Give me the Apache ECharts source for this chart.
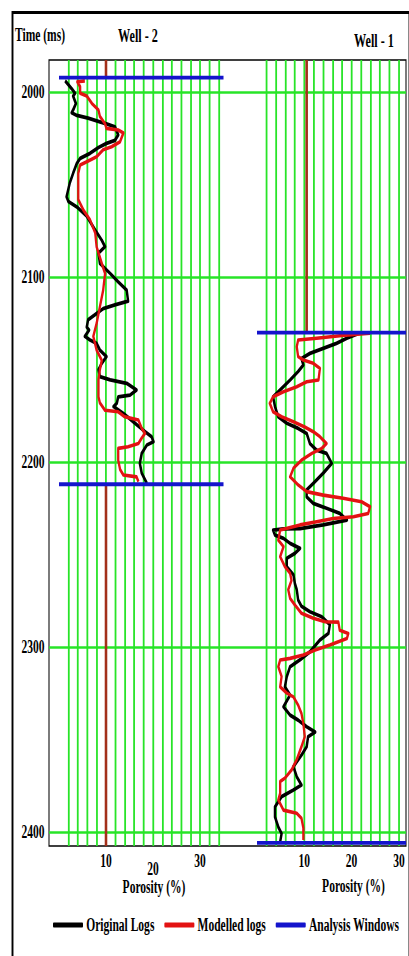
<!DOCTYPE html>
<html>
<head>
<meta charset="utf-8">
<title>Porosity logs – Well 2 and Well 1</title>
<script src="https://cdn.jsdelivr.net/npm/echarts@6/dist/echarts.min.js"></script>
<style>
  html, body { margin: 0; padding: 0; background: #fff; overflow: hidden; width: 409px; height: 956px; }
  #chart { height: 956px; transform-origin: 0 0; }
</style>
</head>
<body>
<div id="chart"></div>
<script>
// The figure is drawn in a wider space and condensed horizontally,
// giving the narrow bold serif lettering of the log display.
const SQ = 0.64;
const W = 409 / SQ;
const H = 956;
const px = x => x / SQ;

// ---- Axes ----
const timeRange = [1982.5, 2407.7];          // two-way time, ms (inverted)
const timeTicks = [2000, 2100, 2200, 2300, 2400];
const porosityTicks = [10, 20, 30];
const well2Range = [0, 35];
const well1Range = [0, 31.5];

// ---- Analysis windows (ms) and reference porosity lines (%) ----
const well2Window = [1992, 2212];
const well1Window = [2130, 2406];
const well2Cutoff = 10;
const well1Cutoff = 10.5;

// ---- Well - 2 : original porosity log ----
const well2OrigTime = [1993.7, 1998, 2000.5, 2002, 2006, 2009.6, 2011, 2012.5, 2014, 2016, 2017, 2018.6, 2023, 2026,
  2027.6, 2029.8, 2033, 2035.7, 2038.4, 2043.8, 2049, 2056.5, 2059, 2062, 2067, 2074.5, 2080, 2083.5, 2087,
  2092.5, 2098, 2102.5, 2107, 2113, 2115, 2117, 2119.6, 2123, 2127, 2128.6, 2132, 2134, 2135.8, 2139.4, 2143,
  2146.6, 2150, 2153.8, 2155.6, 2157.4, 2161, 2163.8, 2164.7, 2168.2, 2170, 2173.7, 2178.2, 2182.7, 2186.3,
  2189, 2190.8, 2195.3, 2200.7, 2206, 2211.5];
const well2OrigPor = [1.3, 2.7, 3.4, 3.0, 3.6, 3.0, 2.7, 3.8, 6.2, 8.7, 10.1, 11.9, 12.6, 11.9,
  10.1, 8.4, 6.6, 4.5, 3.8, 3.0, 2.3, 1.6, 2.0, 3.8, 5.9, 7.7, 9.1, 9.8, 8.4,
  8.7, 10.9, 12.6, 14.4, 14.7, 11.9, 9.4, 8.0, 6.2, 5.9, 6.4, 5.5, 6.6, 8.0, 8.7, 10.1,
  9.1, 8.4, 8.7, 10.9, 14.4, 16.5, 15.1, 12.6, 12.3, 11.6, 13.7, 15.8, 17.9, 19.7,
  20.1, 18.7, 17.6, 17.2, 17.6, 18.7];

// ---- Well - 2 : modelled porosity log ----
const well2ModTime = [1993.8, 1994.3, 1997, 2000.5, 2002, 2006, 2009.6, 2013, 2017, 2019.5, 2020.4, 2022, 2026.7,
  2029.4, 2031, 2034.8, 2037.5, 2039.3, 2043.8, 2058, 2063.7, 2069, 2076, 2083.5, 2092.5, 2098, 2107, 2116,
  2125, 2132, 2139.4, 2145, 2150, 2155.6, 2164.7, 2168, 2172, 2172.8, 2175.5, 2177.3, 2181.8, 2184.5, 2187,
  2190, 2191.7, 2192.6, 2199, 2204, 2207, 2208, 2210.6];
const well2ModPor = [5.5, 3.9, 4.5, 4.5, 5.9, 7.0, 8.4, 8.7, 9.8, 10.1, 12.6, 13.7, 13.0,
  11.2, 9.4, 8.0, 5.9, 4.5, 4.1, 4.1, 5.2, 6.6, 7.7, 8.0, 9.1, 9.8, 9.4, 8.7,
  8.0, 7.3, 8.0, 9.1, 8.7, 8.4, 8.4, 8.7, 9.8, 12.6, 14.0, 16.9, 17.6, 18.3, 17.6,
  16.9, 14.7, 12.6, 12.6, 13.0, 13.7, 16.5, 16.9];

// ---- Well - 1 : original porosity log ----
const well1OrigTime = [2130.8, 2133, 2135.8, 2138.5, 2141.2, 2144, 2147.5, 2151, 2155.6, 2161, 2164.7, 2170, 2175.5,
  2179, 2181.8, 2184.5, 2190, 2193.5, 2195.3, 2200.7, 2206, 2211.5, 2215, 2218.8, 2222.3, 2225, 2227.8, 2231.4,
  2234, 2236, 2236.2, 2236.8, 2239.5, 2241.3, 2244, 2246.7, 2249.4, 2252, 2256.6, 2261, 2265.6, 2269, 2274.6,
  2278, 2281, 2283.7, 2288, 2292.7, 2296.3, 2302.6, 2307, 2310.7, 2316, 2321.6, 2326, 2332.4, 2336.9, 2339.6,
  2343.2, 2346, 2348.6, 2354, 2358.5, 2364.8, 2370.2, 2374.7, 2377.4, 2381, 2386.5, 2392, 2397.4, 2401, 2405.4];
const well1OrigPor = [21.1, 19.0, 16.8, 14.0, 11.2, 9.4, 9.8, 8.7, 7.0, 4.9, 3.4, 3.8, 4.5,
  6.3, 8.7, 10.5, 11.2, 12.6, 14.7, 15.8, 14.0, 11.9, 10.5, 10.5, 11.9, 14.7, 17.5, 19.0,
  14.0, 9.1, 5.6, 3.4, 3.8, 5.6, 7.0, 9.1, 8.0, 6.3, 6.3, 7.7, 8.0, 8.4, 8.7,
  9.4, 11.2, 13.7, 15.4, 15.1, 13.3, 11.2, 9.1, 7.0, 6.3, 5.9, 7.0, 5.6, 7.0, 8.7,
  10.5, 12.3, 10.8, 10.5, 9.4, 7.7, 8.4, 9.4, 7.7, 5.2, 3.8, 3.8, 4.5, 5.2, 4.9];

// ---- Well - 1 : modelled porosity log ----
const well1ModTime = [2130.3, 2131.5, 2133, 2134, 2137.6, 2143, 2144.8, 2146.6, 2149.3, 2155.6, 2156.6, 2159.3, 2162,
  2164.7, 2168.2, 2172.8, 2175.5, 2178.2, 2181, 2183.6, 2186.3, 2190, 2192.6, 2195.3, 2199, 2203.4, 2208,
  2212.4, 2216, 2217.9, 2219.6, 2221.5, 2224.2, 2227.8, 2229.6, 2230.5, 2232.3, 2234, 2236.8, 2242.2, 2245.8,
  2251.2, 2256.6, 2260.2, 2264, 2269, 2273.7, 2277.3, 2281.8, 2284.5, 2286.4, 2286.6, 2291, 2292.7, 2295.4,
  2297.2, 2299, 2301.7, 2304.4, 2306.2, 2307.1, 2310.7, 2316, 2321.6, 2325, 2327, 2331.5, 2336, 2341.4, 2348.6,
  2354, 2361, 2366.6, 2371, 2372.8, 2379.2, 2382.8, 2388.3, 2390, 2392.7, 2398, 2404.5];
const well1ModPor = [23.9, 18.0, 12.6, 8.7, 8.4, 8.7, 9.8, 11.9, 13.3, 13.0, 10.5, 8.4, 5.6,
  3.4, 2.7, 3.4, 5.2, 7.7, 10.1, 11.9, 13.3, 14.7, 13.7, 11.6, 9.4, 7.7, 7.0,
  8.7, 10.5, 14.0, 18.2, 22.1, 23.9, 23.5, 20.4, 16.1, 12.6, 9.1, 4.9, 4.5, 5.6,
  4.9, 5.9, 7.0, 7.3, 6.6, 7.0, 8.0, 9.4, 11.9, 14.4, 17.2, 17.5, 19.3, 19.0,
  17.2, 15.4, 12.3, 9.8, 7.0, 4.9, 4.5, 5.2, 4.9, 6.3, 7.7, 8.7, 9.4, 9.8, 10.1,
  9.4, 8.4, 7.3, 5.9, 4.9, 4.9, 4.5, 5.6, 8.4, 9.4, 9.8, 9.8];

// ---- Styling ----
const FONT = '"Liberation Serif", "Times New Roman", serif';
const GREEN = '#28e428';
const BLACK = '#000000';
const RED = '#e31212';
const BLUE = '#1414cc';
const CUTOFF = '#a3301a';

const zip = (xs, ys) => xs.map((x, i) => [x, ys[i]]);
const labelText = { fontFamily: FONT, fontWeight: 'bold', fontSize: 18, color: '#000' };
const verticalGrid = { show: true, showMinLine: false, showMaxLine: false, lineStyle: { color: GREEN, width: 2.8 } };

function porosityAxis(gridIndex, range, shown, margin, gridLines) {
  return {
    gridIndex, type: 'value', min: range[0], max: range[1], interval: 2, position: 'bottom',
    axisLine: { show: false }, axisTick: { show: false },
    axisLabel: Object.assign({ margin, showMinLabel: false, showMaxLabel: false,
      formatter: v => (shown.includes(v) ? String(v) : '') }, labelText),
    splitLine: gridLines ? verticalGrid : { show: false }
  };
}

function timeAxis(gridIndex, visible) {
  return {
    gridIndex, type: 'value', inverse: true, min: timeRange[0], max: timeRange[1],
    show: visible,
    axisLine: { show: false }, axisTick: { show: false },
    axisLabel: Object.assign({ margin: 7, showMinLabel: false, showMaxLabel: false,
      formatter: v => (timeTicks.includes(v) ? String(v) : '') }, labelText),
    splitLine: visible
      ? { show: true, showMinLine: false, showMaxLine: false, lineStyle: { color: GREEN, width: 2.6 } }
      : { show: false }
  };
}

// axis indices: well 2 track uses xAxis 1 / yAxis 1, well 1 track uses xAxis 3 / yAxis 2
const WELL2 = [1, 1];
const WELL1 = [3, 2];

function logLine(name, track, color, width, data, z) {
  return {
    name, type: 'line', xAxisIndex: track[0], yAxisIndex: track[1], data,
    color, symbol: 'none', silent: true, z,
    lineStyle: { color, width, join: 'round' }, itemStyle: { color }
  };
}

const dom = document.getElementById('chart');
dom.style.width = W + 'px';
dom.style.transform = 'scaleX(' + SQ + ')';

const chart = echarts.init(dom, null, { renderer: 'svg', width: W, height: H });

const titleText = size => 'bold ' + size + 'px ' + FONT;

chart.setOption({
  animation: false,
  backgroundColor: '#ffffff',
  grid: [
    { left: px(49), top: 60, width: px(357), height: 786, show: true,
      borderColor: '#000', borderWidth: 1.6, backgroundColor: 'transparent' },
    { left: px(59), top: 60, width: px(164.5), height: 786 },
    { left: px(257), top: 60, width: px(149), height: 786 }
  ],
  xAxis: [
    { gridIndex: 0, type: 'value', min: 0, max: 1, show: false },
    porosityAxis(1, well2Range, [10, 30], 6, true),
    porosityAxis(1, well2Range, [20], 14, false),
    porosityAxis(2, well1Range, porosityTicks, 6, true)
  ],
  yAxis: [timeAxis(0, true), timeAxis(1, false), timeAxis(2, false)],
  legend: {
    data: ['Original Logs', 'Modelled logs', 'Analysis Windows'],
    left: px(53), top: 915, padding: 0,
    icon: 'roundRect', itemWidth: px(30), itemHeight: 5, itemGap: px(10),
    textStyle: { fontFamily: FONT, fontWeight: 'bold', fontSize: 18, color: '#000', lineHeight: 20 }
  },
  series: [
    // reference porosity lines outside the analysis windows
    logLine('Cut-off', WELL2, CUTOFF, 4, [[well2Cutoff, timeRange[0]], [well2Cutoff, well2Window[0]]], 2),
    logLine('Cut-off', WELL2, CUTOFF, 4, [[well2Cutoff, well2Window[1]], [well2Cutoff, timeRange[1]]], 2),
    logLine('Cut-off', WELL1, CUTOFF, 4, [[well1Cutoff, timeRange[0]], [well1Cutoff, well1Window[0]]], 2),
    // Well - 2
    logLine('Original Logs', WELL2, BLACK, 3.8, zip(well2OrigPor, well2OrigTime), 3),
    logLine('Modelled logs', WELL2, RED, 3.6, zip(well2ModPor, well2ModTime), 4),
    // Well - 1
    logLine('Original Logs', WELL1, BLACK, 3.8, zip(well1OrigPor, well1OrigTime), 3),
    logLine('Modelled logs', WELL1, RED, 3.6, zip(well1ModPor, well1ModTime), 4),
    // analysis windows
    logLine('Analysis Windows', WELL2, BLUE, 3.8, [[well2Range[0], well2Window[0]], [well2Range[1], well2Window[0]]], 5),
    logLine('Analysis Windows', WELL2, BLUE, 3.8, [[well2Range[0], well2Window[1]], [well2Range[1], well2Window[1]]], 5),
    logLine('Analysis Windows', WELL1, BLUE, 3.8, [[well1Range[0], well1Window[0]], [well1Range[1], well1Window[0]]], 5),
    logLine('Analysis Windows', WELL1, BLUE, 3.8, [[well1Range[0], well1Window[1]], [well1Range[1], well1Window[1]]], 5)
  ],
  graphic: [
    { type: 'rect', silent: true, z: 100,
      shape: { x: px(12.5), y: 12.5, width: px(409.5 - 12.5), height: 960 },
      style: { fill: 'none', stroke: '#000', lineWidth: 3 } },
    { type: 'text', x: px(15), y: 35, silent: true,
      style: { text: 'Time (ms)', font: titleText(18), textAlign: 'left', textVerticalAlign: 'middle', fill: '#000' } },
    { type: 'text', x: px(138), y: 35, silent: true,
      style: { text: 'Well - 2', font: titleText(19), textAlign: 'center', textVerticalAlign: 'middle', fill: '#000' } },
    { type: 'text', x: px(374), y: 40, silent: true,
      style: { text: 'Well - 1', font: titleText(19), textAlign: 'center', textVerticalAlign: 'middle', fill: '#000' } },
    { type: 'text', x: px(154), y: 887, silent: true,
      style: { text: 'Porosity (%)', font: titleText(18), textAlign: 'center', textVerticalAlign: 'middle', fill: '#000' } },
    { type: 'text', x: px(353.5), y: 886, silent: true,
      style: { text: 'Porosity (%)', font: titleText(18), textAlign: 'center', textVerticalAlign: 'middle', fill: '#000' } }
  ]
});
</script>
</body>
</html>
